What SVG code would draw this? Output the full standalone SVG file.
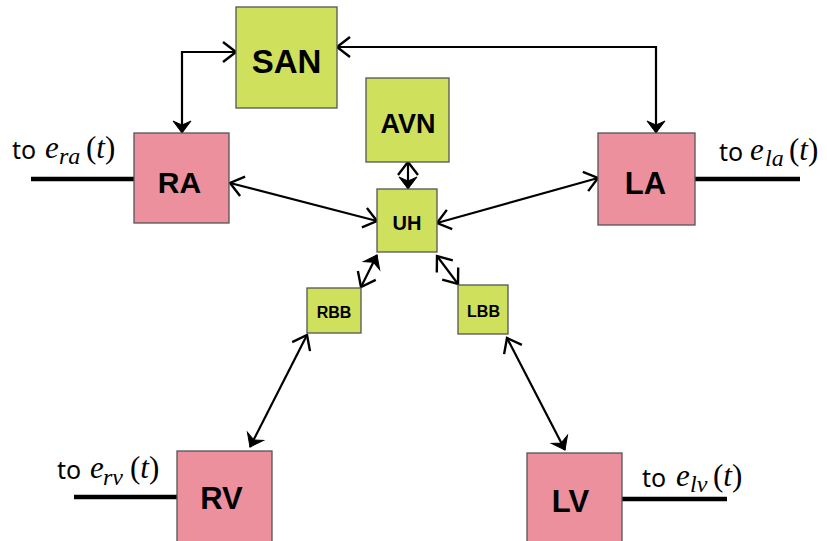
<svg xmlns="http://www.w3.org/2000/svg" width="827" height="541" viewBox="0 0 827 541">
<style>
.g{fill:#cfe05c;stroke:#555;stroke-width:1.3}
.p{fill:#ec909e;stroke:#555;stroke-width:1.3}
.lb{font-family:"Liberation Sans",Arial,sans-serif;font-weight:bold;fill:#000;text-anchor:middle}
.c{fill:none;stroke:#000;stroke-width:2.2}
.el{stroke:#000;stroke-width:4.5}
.to{font-family:"Noto Sans","Open Sans",sans-serif;font-size:25px;fill:#000}
.m{font-family:"Liberation Serif","DejaVu Serif",serif;font-size:31px;fill:#000}
.mi{font-style:italic}
.sub{font-family:"Liberation Serif","DejaVu Serif",serif;font-style:italic;font-size:24px;fill:#000}
</style>
<defs>
<marker id="op" markerUnits="userSpaceOnUse" viewBox="-20 -15 30 30" markerWidth="30" markerHeight="30" refX="0" refY="0" orient="auto-start-reverse" overflow="visible"><path d="M-13,-10 L0,0 L-13,10" fill="none" stroke="#000" stroke-width="2.4"/></marker>
<marker id="fi" markerUnits="userSpaceOnUse" viewBox="-20 -15 30 30" markerWidth="30" markerHeight="30" refX="0" refY="0" orient="auto-start-reverse" overflow="visible"><path d="M0,0 L-12,-9 L-8,0 L-12,9 Z" fill="#000" stroke="#000" stroke-width="1"/></marker>
</defs>

<g id="connectors">
<path class="c" d="M182,133 L182,52 L236,52" marker-start="url(#fi)" marker-end="url(#op)"/>
<path class="c" d="M337,47 L656,47 L656,133" marker-start="url(#op)" marker-end="url(#fi)"/>
<path class="c" d="M230,183 L377,221" marker-start="url(#op)" marker-end="url(#op)"/>
<path class="c" d="M598,178 L437,223" marker-start="url(#op)" marker-end="url(#op)"/>
<path class="c" d="M408,162 L408,189" marker-start="url(#op)" marker-end="url(#fi)"/>
<path class="c" d="M377,255 L361,287" marker-start="url(#fi)" marker-end="url(#op)"/>
<path class="c" d="M437,256 L458,284" marker-start="url(#op)" marker-end="url(#op)"/>
<path class="c" d="M307,335 L250,447" marker-start="url(#op)" marker-end="url(#fi)"/>
<path class="c" d="M507,338 L565,450" marker-start="url(#op)" marker-end="url(#fi)"/>
<line class="el" x1="31" y1="179" x2="134" y2="179"/>
<line class="el" x1="695" y1="179" x2="800" y2="179"/>
<line class="el" x1="74" y1="497" x2="177" y2="497"/>
<line class="el" x1="622" y1="499" x2="727" y2="499"/>
</g>

<g id="SAN"><rect class="g" x="236" y="7" width="101" height="101"/><text class="lb" x="286.5" y="73" font-size="33">SAN</text></g>
<g id="AVN"><rect class="g" x="366" y="78" width="83" height="84"/><text class="lb" x="408" y="132.5" font-size="27">AVN</text></g>
<g id="RA"><rect class="p" x="134" y="133" width="95" height="90"/><text class="lb" x="179.5" y="192.5" font-size="30">RA</text></g>
<g id="LA"><rect class="p" x="598" y="133" width="97" height="92"/><text class="lb" x="645.5" y="194" font-size="31">LA</text></g>
<g id="UH"><rect class="g" x="377" y="189" width="60" height="63"/><text class="lb" x="407" y="229.5" font-size="20">UH</text></g>
<g id="RBB"><rect class="g" x="307" y="288" width="54" height="45"/><text class="lb" x="334" y="318" font-size="16">RBB</text></g>
<g id="LBB"><rect class="g" x="458" y="285" width="50" height="49"/><text class="lb" x="483.5" y="316.5" font-size="16">LBB</text></g>
<g id="RV"><rect class="p" x="177" y="451" width="95" height="95"/><text class="lb" x="221.5" y="509" font-size="31">RV</text></g>
<g id="LV"><rect class="p" x="527" y="453" width="95" height="95"/><text class="lb" x="570.5" y="511.5" font-size="31">LV</text></g>

<g id="labels">
<text class="to" x="12" y="159">to</text>
<text class="m mi" x="45" y="158">e</text>
<text class="sub" x="59" y="164">ra</text>
<text class="m" x="86" y="158">(<tspan class="mi">t</tspan>)</text>

<text class="to" x="719" y="161">to</text>
<text class="m mi" x="750" y="160">e</text>
<text class="sub" x="765" y="166">la</text>
<text class="m" x="789" y="160">(<tspan class="mi">t</tspan>)</text>

<text class="to" x="57" y="479">to</text>
<text class="m mi" x="90" y="478">e</text>
<text class="sub" x="103" y="485">rv</text>
<text class="m" x="130" y="478">(<tspan class="mi">t</tspan>)</text>

<text class="to" x="642" y="487">to</text>
<text class="m mi" x="676" y="486">e</text>
<text class="sub" x="690" y="492">lv</text>
<text class="m" x="713" y="486">(<tspan class="mi">t</tspan>)</text>
</g>
</svg>
